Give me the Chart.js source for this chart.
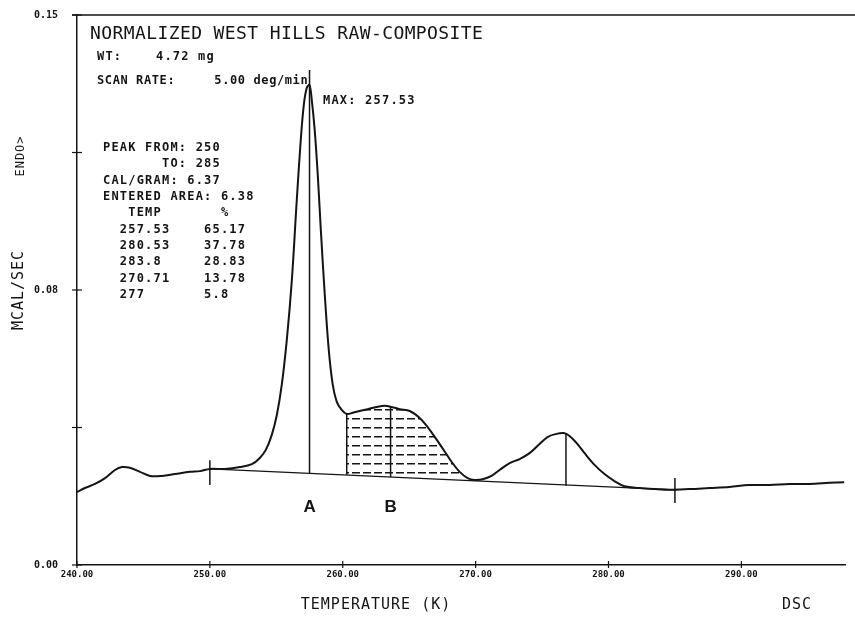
<!DOCTYPE html>
<html>
<head>
<meta charset="utf-8">
<title>DSC - Normalized West Hills Raw-Composite</title>
<script src="https://cdn.jsdelivr.net/npm/chart.js@4.4.1/dist/chart.umd.min.js"></script>
<style>
  html, body { margin: 0; padding: 0; background: #fff; }
  canvas { display: block; }
</style>
</head>
<body>
<canvas id="dscChart" width="855" height="619"></canvas>
<script>
// ---- data ----
const tempK = [
  240.00, 240.60, 241.35, 242.11, 242.86, 243.38, 243.98, 244.74, 245.49, 246.39,
  247.37, 248.50, 249.25, 250.00, 251.13, 252.26, 253.16, 253.76, 254.21, 254.66,
  255.04, 255.41, 255.79, 256.17, 256.54, 256.84, 257.07, 257.29, 257.50, 257.67,
  257.89, 258.12, 258.35, 258.65, 258.95, 259.25, 259.55, 259.92, 260.30, 260.75,
  261.28, 261.88, 262.56, 263.16, 263.68, 264.29, 265.04, 265.79, 266.39, 266.99,
  267.59, 268.20, 268.80, 269.40, 269.92, 270.53, 271.20, 271.80, 272.56, 273.31,
  274.06, 274.81, 275.41, 276.02, 276.62, 277.07, 277.59, 278.20, 278.95, 279.70,
  280.45, 281.20, 282.33, 283.46, 284.59, 286.09, 287.59, 289.10, 290.60, 292.11,
  293.61, 295.11, 296.62, 297.74
];
const heatFlow = [
  0.0199, 0.0210, 0.0221, 0.0237, 0.0259, 0.0267, 0.0265, 0.0254, 0.0243, 0.0243,
  0.0248, 0.0254, 0.0256, 0.0262, 0.0262, 0.0267, 0.0275, 0.0292, 0.0314, 0.0355,
  0.0409, 0.0491, 0.0614, 0.0777, 0.0995, 0.1159, 0.1255, 0.1301, 0.1309, 0.1268,
  0.1186, 0.1064, 0.0914, 0.0736, 0.0586, 0.0491, 0.0445, 0.0423, 0.0412, 0.0415,
  0.0420, 0.0425, 0.0431, 0.0434, 0.0431, 0.0425, 0.0420, 0.0401, 0.0376, 0.0346,
  0.0314, 0.0281, 0.0254, 0.0237, 0.0232, 0.0234, 0.0243, 0.0259, 0.0278, 0.0289,
  0.0305, 0.0330, 0.0349, 0.0357, 0.0360, 0.0352, 0.0333, 0.0305, 0.0273, 0.0248,
  0.0229, 0.0215, 0.0210, 0.0207, 0.0205, 0.0207, 0.0210, 0.0213, 0.0218, 0.0218,
  0.0221, 0.0221, 0.0224, 0.0226
];

// integration baseline (peak from 250 to 285)
const baselineT = [250, 285];
const baselineY = [0.0262, 0.0205];

// vertical drop lines at the peaks
const dropT = [257.5, 260.3, 263.6, 276.8];
const dropTop = [0.1350, 0.0412, 0.0431, 0.0360];
const dropBottom = [0.0250, 0.0246, 0.0240, 0.0216];

// short marks at the ends of the baseline
const endT = [250, 285];
const endTop = [0.0286, 0.0237];
const endBottom = [0.0218, 0.0169];

// hatched partial area
const hatchFrom = 260.3;
const hatchTo = 269.92;
const hatchBaseY = [0.0231, 0.0245]; // baseline at hatchTo, hatchFrom

const peakLetters = ['A', 'B'];
const letterT = [257.5, 263.6];
const letterY = 0.0158;

const xTickValues = [240, 250, 260, 270, 280, 290];
const yTickValues = [0, 0.0375, 0.075, 0.1125, 0.15];
const yTickLabels = ['0.00', '', '0.08', '', '0.15'];

const INK = '#141414';
const MONO = '"DejaVu Sans Mono", "Liberation Mono", monospace';

// ---- build datasets ----
const curvePoints = tempK.map((t, i) => ({ x: t, y: heatFlow[i] }));

const hatchPoints = curvePoints.filter(p => p.x >= hatchFrom && p.x <= hatchTo);
hatchPoints.push({ x: hatchTo, y: hatchBaseY[0] });
hatchPoints.push({ x: hatchFrom, y: hatchBaseY[1] });

function makeHatchPattern() {
    const c = document.createElement('canvas');
    c.width = 11;
    c.height = 9;
    const g = c.getContext('2d');
    g.fillStyle = INK;
    g.fillRect(0, 4, 8, 1.5);
    return g.createPattern(c, 'repeat');
}

function segment(x1, y1, x2, y2, width) {
    return {
        data: [{ x: x1, y: y1 }, { x: x2, y: y2 }],
        borderColor: INK,
        borderWidth: width || 1.3,
        pointRadius: 0,
        tension: 0,
        fill: false
    };
}

const datasets = [];

datasets.push({
    label: 'hatch',
    data: hatchPoints,
    borderColor: 'rgba(0,0,0,0)',
    borderWidth: 0,
    backgroundColor: makeHatchPattern(),
    pointRadius: 0,
    tension: 0,
    fill: 'shape'
});

datasets.push({
    label: 'DSC',
    data: curvePoints,
    borderColor: INK,
    borderWidth: 2,
    pointRadius: 0,
    tension: 0.35,
    fill: false
});

datasets.push(segment(baselineT[0], baselineY[0], baselineT[1], baselineY[1], 1.3));
dropT.forEach((t, i) => datasets.push(segment(t, dropBottom[i], t, dropTop[i], 1.5)));
endT.forEach((t, i) => datasets.push(segment(t, endBottom[i], t, endTop[i], 1.5)));

// ---- texts printed on the plot ----
const headerLines = [
    { text: 'NORMALIZED WEST HILLS RAW-COMPOSITE', x: 90, y: 34, font: '18px ' + MONO, spacing: 0.4 },
    { text: 'WT:    4.72 mg', x: 97, y: 57, font: 'bold 12px ' + MONO, spacing: 1.2 },
    { text: 'SCAN RATE:     5.00 deg/min', x: 97, y: 81, font: 'bold 12px ' + MONO, spacing: 0.6 },
    { text: 'MAX: 257.53', x: 323, y: 101, font: 'bold 12px ' + MONO, spacing: 1.2 }
];
const resultLines = [
    'PEAK FROM: 250',
    '       TO: 285',
    'CAL/GRAM: 6.37',
    'ENTERED AREA: 6.38',
    '   TEMP       %',
    '  257.53    65.17',
    '  280.53    37.78',
    '  283.8     28.83',
    '  270.71    13.78',
    '  277       5.8'
];

const annotationPlugin = {
    id: 'dscAnnotations',
    afterDraw(chart) {
        const ctx = chart.ctx;
        const area = chart.chartArea;
        const xs = chart.scales.x;
        const ys = chart.scales.y;
        ctx.save();
        ctx.fillStyle = INK;
        ctx.strokeStyle = INK;

        // top frame line running to the edge of the page
        ctx.lineWidth = 1.5;
        ctx.beginPath();
        ctx.moveTo(area.left - 5, area.top);
        ctx.lineTo(chart.width, area.top);
        ctx.stroke();

        // small cross ticks on the axes
        ctx.lineWidth = 1.2;
        xTickValues.forEach(v => {
            const px = xs.getPixelForValue(v);
            ctx.beginPath();
            ctx.moveTo(px, area.bottom - 4);
            ctx.lineTo(px, area.bottom + 3);
            ctx.stroke();
        });
        yTickValues.forEach(v => {
            const py = ys.getPixelForValue(v);
            ctx.beginPath();
            ctx.moveTo(area.left - 5, py);
            ctx.lineTo(area.left + 5, py);
            ctx.stroke();
        });

        ctx.textBaseline = 'middle';
        ctx.textAlign = 'left';
        headerLines.forEach(l => {
            ctx.font = l.font;
            ctx.letterSpacing = l.spacing + 'px';
            ctx.fillText(l.text, l.x, l.y);
        });

        ctx.font = 'bold 12px ' + MONO;
        ctx.letterSpacing = '1.2px';
        resultLines.forEach((t, i) => {
            ctx.fillText(t, 103, 148 + i * 16.3);
        });

        // peak letters under the baseline
        ctx.font = 'bold 17px "Liberation Sans", Arial, sans-serif';
        ctx.letterSpacing = '0px';
        ctx.textAlign = 'center';
        peakLetters.forEach((s, i) => {
            ctx.fillText(s, xs.getPixelForValue(letterT[i]), ys.getPixelForValue(letterY));
        });

        // axis titles
        ctx.font = '15px ' + MONO;
        ctx.letterSpacing = '1px';
        ctx.fillText('TEMPERATURE (K)', 376, 605);
        ctx.fillText('DSC', 797, 605);

        ctx.save();
        ctx.translate(19, 290);
        ctx.rotate(-Math.PI / 2);
        ctx.fillText('MCAL/SEC', 0, 0);
        ctx.restore();

        ctx.save();
        ctx.font = '12px ' + MONO;
        ctx.translate(21, 156);
        ctx.rotate(-Math.PI / 2);
        ctx.fillText('ENDO>', 0, 0);
        ctx.restore();

        ctx.restore();
    }
};

new Chart(document.getElementById('dscChart'), {
    type: 'line',
    data: { datasets },
    options: {
        responsive: false,
        animation: false,
        layout: { padding: { top: 15, right: 10, left: 0, bottom: 0 } },
        plugins: {
            legend: { display: false },
            tooltip: { enabled: false }
        },
        scales: {
            x: {
                type: 'linear',
                min: 240,
                max: 297.8,
                afterBuildTicks: scale => {
                    scale.ticks = xTickValues.map(v => ({ value: v }));
                },
                afterFit: scale => {
                    scale.height = 54;
                    scale.paddingLeft = 0;
                    scale.paddingRight = 0;
                },
                grid: { display: false, drawTicks: false },
                border: { display: true, color: INK, width: 1.5 },
                ticks: {
                    padding: 4,
                    color: INK,
                    maxRotation: 0,
                    font: { family: MONO, size: 9, weight: 'bold' },
                    callback: v => Number(v).toFixed(2)
                }
            },
            y: {
                type: 'linear',
                min: 0,
                max: 0.15,
                afterBuildTicks: scale => {
                    scale.ticks = yTickValues.map(v => ({ value: v }));
                },
                afterFit: scale => {
                    scale.width = 77;
                    scale.paddingTop = 0;
                    scale.paddingBottom = 0;
                },
                grid: { display: false, drawTicks: false },
                border: { display: true, color: INK, width: 1.5 },
                ticks: {
                    padding: 19,
                    color: INK,
                    font: { family: MONO, size: 10, weight: 'bold' },
                    callback: (v, i) => yTickLabels[i]
                }
            }
        }
    },
    plugins: [annotationPlugin]
});
</script>
</body>
</html>
